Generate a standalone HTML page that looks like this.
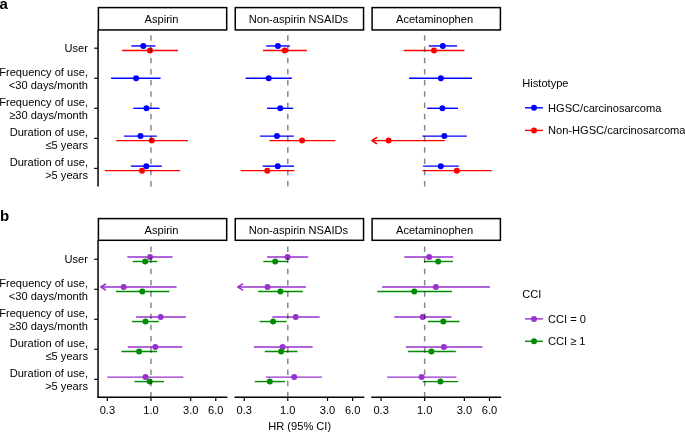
<!DOCTYPE html>
<html><head><meta charset="utf-8"><style>
html,body{margin:0;padding:0;background:#fff;}
svg{display:block;font-family:"Liberation Sans", sans-serif;will-change:transform;}
</style></head><body>
<svg width="685" height="432" viewBox="0 0 685 432">
<rect width="685" height="432" fill="#fff"/>
<text x="-0.6" y="8.6" font-size="15" font-weight="bold" fill="#000">a</text>
<rect x="98.40" y="7.60" width="128.30" height="22.35" fill="#fff" stroke="#000" stroke-width="1.5"/>
<text x="161.55" y="23.10" font-size="11.1" text-anchor="middle" fill="#000">Aspirin</text>
<rect x="235.25" y="7.60" width="128.30" height="22.35" fill="#fff" stroke="#000" stroke-width="1.5"/>
<text x="298.40" y="23.10" font-size="11.1" text-anchor="middle" fill="#000">Non-aspirin NSAIDs</text>
<rect x="372.10" y="7.60" width="128.30" height="22.35" fill="#fff" stroke="#000" stroke-width="1.5"/>
<text x="434.55" y="23.10" font-size="11.1" text-anchor="middle" fill="#000">Acetaminophen</text>
<line x1="98.05" y1="29.90" x2="98.05" y2="186.40" stroke="#000" stroke-width="1.5"/>
<line x1="94.25" y1="48.20" x2="98.05" y2="48.20" stroke="#000" stroke-width="1.2"/>
<text x="88.0" y="52.40" font-size="11.1" text-anchor="end" fill="#000">User</text>
<line x1="94.25" y1="78.25" x2="98.05" y2="78.25" stroke="#000" stroke-width="1.2"/>
<text x="88.0" y="75.55" font-size="11.1" text-anchor="end" fill="#000">Frequency of use,</text>
<text x="88.0" y="88.65" font-size="11.1" text-anchor="end" fill="#000">&lt;30 days/month</text>
<line x1="94.25" y1="108.30" x2="98.05" y2="108.30" stroke="#000" stroke-width="1.2"/>
<text x="88.0" y="105.60" font-size="11.1" text-anchor="end" fill="#000">Frequency of use,</text>
<text x="88.0" y="118.70" font-size="11.1" text-anchor="end" fill="#000">&#8805;30 days/month</text>
<line x1="94.25" y1="138.35" x2="98.05" y2="138.35" stroke="#000" stroke-width="1.2"/>
<text x="88.0" y="135.65" font-size="11.1" text-anchor="end" fill="#000">Duration of use,</text>
<text x="88.0" y="148.75" font-size="11.1" text-anchor="end" fill="#000">&#8804;5 years</text>
<line x1="94.25" y1="168.40" x2="98.05" y2="168.40" stroke="#000" stroke-width="1.2"/>
<text x="88.0" y="165.70" font-size="11.1" text-anchor="end" fill="#000">Duration of use,</text>
<text x="88.0" y="178.80" font-size="11.1" text-anchor="end" fill="#000">&gt;5 years</text>
<line x1="131.30" y1="45.95" x2="155.40" y2="45.95" stroke="#0000FF" stroke-width="1.4"/>
<circle cx="143.30" cy="45.95" r="3.0" fill="#0000FF"/>
<line x1="122.10" y1="50.45" x2="178.00" y2="50.45" stroke="#FF0000" stroke-width="1.4"/>
<circle cx="150.00" cy="50.45" r="3.0" fill="#FF0000"/>
<line x1="111.10" y1="78.25" x2="160.60" y2="78.25" stroke="#0000FF" stroke-width="1.4"/>
<circle cx="136.10" cy="78.25" r="3.0" fill="#0000FF"/>
<line x1="133.30" y1="108.30" x2="159.50" y2="108.30" stroke="#0000FF" stroke-width="1.4"/>
<circle cx="146.40" cy="108.30" r="3.0" fill="#0000FF"/>
<line x1="124.10" y1="136.10" x2="156.80" y2="136.10" stroke="#0000FF" stroke-width="1.4"/>
<circle cx="140.50" cy="136.10" r="3.0" fill="#0000FF"/>
<line x1="116.20" y1="140.60" x2="188.00" y2="140.60" stroke="#FF0000" stroke-width="1.4"/>
<circle cx="151.80" cy="140.60" r="3.0" fill="#FF0000"/>
<line x1="130.90" y1="166.15" x2="161.80" y2="166.15" stroke="#0000FF" stroke-width="1.4"/>
<circle cx="146.30" cy="166.15" r="3.0" fill="#0000FF"/>
<line x1="104.90" y1="170.65" x2="179.90" y2="170.65" stroke="#FF0000" stroke-width="1.4"/>
<circle cx="142.00" cy="170.65" r="3.0" fill="#FF0000"/>
<line x1="266.20" y1="45.95" x2="289.90" y2="45.95" stroke="#0000FF" stroke-width="1.4"/>
<circle cx="277.90" cy="45.95" r="3.0" fill="#0000FF"/>
<line x1="262.90" y1="50.45" x2="306.80" y2="50.45" stroke="#FF0000" stroke-width="1.4"/>
<circle cx="284.70" cy="50.45" r="3.0" fill="#FF0000"/>
<line x1="245.60" y1="78.25" x2="291.80" y2="78.25" stroke="#0000FF" stroke-width="1.4"/>
<circle cx="268.70" cy="78.25" r="3.0" fill="#0000FF"/>
<line x1="267.00" y1="108.30" x2="293.20" y2="108.30" stroke="#0000FF" stroke-width="1.4"/>
<circle cx="280.25" cy="108.30" r="3.0" fill="#0000FF"/>
<line x1="260.00" y1="136.10" x2="293.80" y2="136.10" stroke="#0000FF" stroke-width="1.4"/>
<circle cx="276.90" cy="136.10" r="3.0" fill="#0000FF"/>
<line x1="269.40" y1="140.60" x2="335.40" y2="140.60" stroke="#FF0000" stroke-width="1.4"/>
<circle cx="302.10" cy="140.60" r="3.0" fill="#FF0000"/>
<line x1="262.70" y1="166.15" x2="294.00" y2="166.15" stroke="#0000FF" stroke-width="1.4"/>
<circle cx="277.70" cy="166.15" r="3.0" fill="#0000FF"/>
<line x1="240.70" y1="170.65" x2="294.40" y2="170.65" stroke="#FF0000" stroke-width="1.4"/>
<circle cx="267.30" cy="170.65" r="3.0" fill="#FF0000"/>
<line x1="428.80" y1="45.95" x2="457.10" y2="45.95" stroke="#0000FF" stroke-width="1.4"/>
<circle cx="442.80" cy="45.95" r="3.0" fill="#0000FF"/>
<line x1="403.70" y1="50.45" x2="464.40" y2="50.45" stroke="#FF0000" stroke-width="1.4"/>
<circle cx="434.00" cy="50.45" r="3.0" fill="#FF0000"/>
<line x1="409.10" y1="78.25" x2="472.10" y2="78.25" stroke="#0000FF" stroke-width="1.4"/>
<circle cx="440.90" cy="78.25" r="3.0" fill="#0000FF"/>
<line x1="427.10" y1="108.30" x2="458.00" y2="108.30" stroke="#0000FF" stroke-width="1.4"/>
<circle cx="442.35" cy="108.30" r="3.0" fill="#0000FF"/>
<line x1="422.50" y1="136.10" x2="466.80" y2="136.10" stroke="#0000FF" stroke-width="1.4"/>
<circle cx="444.30" cy="136.10" r="3.0" fill="#0000FF"/>
<line x1="371.90" y1="140.60" x2="444.90" y2="140.60" stroke="#FF0000" stroke-width="1.4"/>
<polyline points="376.50,137.70 371.90,140.60 376.50,143.50" fill="none" stroke="#FF0000" stroke-width="1.5999999999999999" stroke-linejoin="round" stroke-linecap="round"/>
<circle cx="388.60" cy="140.60" r="3.0" fill="#FF0000"/>
<line x1="423.10" y1="166.15" x2="458.90" y2="166.15" stroke="#0000FF" stroke-width="1.4"/>
<circle cx="440.80" cy="166.15" r="3.0" fill="#0000FF"/>
<line x1="422.50" y1="170.65" x2="491.80" y2="170.65" stroke="#FF0000" stroke-width="1.4"/>
<circle cx="456.80" cy="170.65" r="3.0" fill="#FF0000"/>
<line x1="150.95" y1="186.40" x2="150.95" y2="30.50" stroke="#000" stroke-opacity="0.47" stroke-width="1.5" stroke-dasharray="5.5 5.7"/>
<line x1="287.80" y1="186.40" x2="287.80" y2="30.50" stroke="#000" stroke-opacity="0.47" stroke-width="1.5" stroke-dasharray="5.5 5.7"/>
<line x1="424.65" y1="186.40" x2="424.65" y2="30.50" stroke="#000" stroke-opacity="0.47" stroke-width="1.5" stroke-dasharray="5.5 5.7"/>
<text x="0" y="220.7" font-size="15" font-weight="bold" fill="#000">b</text>
<rect x="98.40" y="218.60" width="128.30" height="21.70" fill="#fff" stroke="#000" stroke-width="1.5"/>
<text x="161.55" y="234.10" font-size="11.1" text-anchor="middle" fill="#000">Aspirin</text>
<rect x="235.25" y="218.60" width="128.30" height="21.70" fill="#fff" stroke="#000" stroke-width="1.5"/>
<text x="298.40" y="234.10" font-size="11.1" text-anchor="middle" fill="#000">Non-aspirin NSAIDs</text>
<rect x="372.10" y="218.60" width="128.30" height="21.70" fill="#fff" stroke="#000" stroke-width="1.5"/>
<text x="434.55" y="234.10" font-size="11.1" text-anchor="middle" fill="#000">Acetaminophen</text>
<line x1="98.05" y1="240.40" x2="98.05" y2="398.10" stroke="#000" stroke-width="1.5"/>
<line x1="94.25" y1="259.25" x2="98.05" y2="259.25" stroke="#000" stroke-width="1.2"/>
<text x="88.0" y="263.45" font-size="11.1" text-anchor="end" fill="#000">User</text>
<line x1="94.25" y1="289.27" x2="98.05" y2="289.27" stroke="#000" stroke-width="1.2"/>
<text x="88.0" y="286.57" font-size="11.1" text-anchor="end" fill="#000">Frequency of use,</text>
<text x="88.0" y="299.67" font-size="11.1" text-anchor="end" fill="#000">&lt;30 days/month</text>
<line x1="94.25" y1="319.29" x2="98.05" y2="319.29" stroke="#000" stroke-width="1.2"/>
<text x="88.0" y="316.59" font-size="11.1" text-anchor="end" fill="#000">Frequency of use,</text>
<text x="88.0" y="329.69" font-size="11.1" text-anchor="end" fill="#000">&#8805;30 days/month</text>
<line x1="94.25" y1="349.31" x2="98.05" y2="349.31" stroke="#000" stroke-width="1.2"/>
<text x="88.0" y="346.61" font-size="11.1" text-anchor="end" fill="#000">Duration of use,</text>
<text x="88.0" y="359.71" font-size="11.1" text-anchor="end" fill="#000">&#8804;5 years</text>
<line x1="94.25" y1="379.33" x2="98.05" y2="379.33" stroke="#000" stroke-width="1.2"/>
<text x="88.0" y="376.63" font-size="11.1" text-anchor="end" fill="#000">Duration of use,</text>
<text x="88.0" y="389.73" font-size="11.1" text-anchor="end" fill="#000">&gt;5 years</text>
<line x1="127.30" y1="257.00" x2="172.50" y2="257.00" stroke="#9932CC" stroke-width="1.4"/>
<circle cx="150.00" cy="257.00" r="3.0" fill="#9932CC"/>
<line x1="132.70" y1="261.50" x2="157.30" y2="261.50" stroke="#008B00" stroke-width="1.4"/>
<circle cx="145.20" cy="261.50" r="3.0" fill="#008B00"/>
<line x1="100.90" y1="287.02" x2="176.60" y2="287.02" stroke="#9932CC" stroke-width="1.4"/>
<polyline points="105.50,284.12 100.90,287.02 105.50,289.92" fill="none" stroke="#9932CC" stroke-width="1.5999999999999999" stroke-linejoin="round" stroke-linecap="round"/>
<circle cx="123.60" cy="287.02" r="3.0" fill="#9932CC"/>
<line x1="115.90" y1="291.52" x2="169.30" y2="291.52" stroke="#008B00" stroke-width="1.4"/>
<circle cx="142.30" cy="291.52" r="3.0" fill="#008B00"/>
<line x1="136.10" y1="317.04" x2="186.05" y2="317.04" stroke="#9932CC" stroke-width="1.4"/>
<circle cx="160.65" cy="317.04" r="3.0" fill="#9932CC"/>
<line x1="132.00" y1="321.54" x2="158.80" y2="321.54" stroke="#008B00" stroke-width="1.4"/>
<circle cx="145.50" cy="321.54" r="3.0" fill="#008B00"/>
<line x1="127.80" y1="347.06" x2="182.40" y2="347.06" stroke="#9932CC" stroke-width="1.4"/>
<circle cx="155.30" cy="347.06" r="3.0" fill="#9932CC"/>
<line x1="121.40" y1="351.56" x2="157.00" y2="351.56" stroke="#008B00" stroke-width="1.4"/>
<circle cx="139.10" cy="351.56" r="3.0" fill="#008B00"/>
<line x1="107.40" y1="377.08" x2="183.40" y2="377.08" stroke="#9932CC" stroke-width="1.4"/>
<circle cx="145.50" cy="377.08" r="3.0" fill="#9932CC"/>
<line x1="134.50" y1="381.58" x2="164.00" y2="381.58" stroke="#008B00" stroke-width="1.4"/>
<circle cx="149.70" cy="381.58" r="3.0" fill="#008B00"/>
<line x1="267.10" y1="257.00" x2="308.20" y2="257.00" stroke="#9932CC" stroke-width="1.4"/>
<circle cx="287.60" cy="257.00" r="3.0" fill="#9932CC"/>
<line x1="263.30" y1="261.50" x2="288.00" y2="261.50" stroke="#008B00" stroke-width="1.4"/>
<circle cx="275.20" cy="261.50" r="3.0" fill="#008B00"/>
<line x1="237.90" y1="287.02" x2="305.90" y2="287.02" stroke="#9932CC" stroke-width="1.4"/>
<polyline points="242.50,284.12 237.90,287.02 242.50,289.92" fill="none" stroke="#9932CC" stroke-width="1.5999999999999999" stroke-linejoin="round" stroke-linecap="round"/>
<circle cx="267.50" cy="287.02" r="3.0" fill="#9932CC"/>
<line x1="258.10" y1="291.52" x2="302.80" y2="291.52" stroke="#008B00" stroke-width="1.4"/>
<circle cx="280.40" cy="291.52" r="3.0" fill="#008B00"/>
<line x1="272.30" y1="317.04" x2="319.60" y2="317.04" stroke="#9932CC" stroke-width="1.4"/>
<circle cx="295.75" cy="317.04" r="3.0" fill="#9932CC"/>
<line x1="259.60" y1="321.54" x2="286.70" y2="321.54" stroke="#008B00" stroke-width="1.4"/>
<circle cx="273.10" cy="321.54" r="3.0" fill="#008B00"/>
<line x1="253.80" y1="347.06" x2="312.70" y2="347.06" stroke="#9932CC" stroke-width="1.4"/>
<circle cx="282.70" cy="347.06" r="3.0" fill="#9932CC"/>
<line x1="264.80" y1="351.56" x2="297.50" y2="351.56" stroke="#008B00" stroke-width="1.4"/>
<circle cx="281.10" cy="351.56" r="3.0" fill="#008B00"/>
<line x1="265.90" y1="377.08" x2="321.90" y2="377.08" stroke="#9932CC" stroke-width="1.4"/>
<circle cx="294.20" cy="377.08" r="3.0" fill="#9932CC"/>
<line x1="254.80" y1="381.58" x2="285.00" y2="381.58" stroke="#008B00" stroke-width="1.4"/>
<circle cx="269.80" cy="381.58" r="3.0" fill="#008B00"/>
<line x1="404.30" y1="257.00" x2="453.30" y2="257.00" stroke="#9932CC" stroke-width="1.4"/>
<circle cx="429.20" cy="257.00" r="3.0" fill="#9932CC"/>
<line x1="424.00" y1="261.50" x2="452.90" y2="261.50" stroke="#008B00" stroke-width="1.4"/>
<circle cx="438.20" cy="261.50" r="3.0" fill="#008B00"/>
<line x1="382.10" y1="287.02" x2="489.90" y2="287.02" stroke="#9932CC" stroke-width="1.4"/>
<circle cx="435.90" cy="287.02" r="3.0" fill="#9932CC"/>
<line x1="377.30" y1="291.52" x2="451.90" y2="291.52" stroke="#008B00" stroke-width="1.4"/>
<circle cx="414.30" cy="291.52" r="3.0" fill="#008B00"/>
<line x1="394.30" y1="317.04" x2="451.25" y2="317.04" stroke="#9932CC" stroke-width="1.4"/>
<circle cx="422.65" cy="317.04" r="3.0" fill="#9932CC"/>
<line x1="427.90" y1="321.54" x2="459.50" y2="321.54" stroke="#008B00" stroke-width="1.4"/>
<circle cx="443.30" cy="321.54" r="3.0" fill="#008B00"/>
<line x1="405.80" y1="347.06" x2="482.40" y2="347.06" stroke="#9932CC" stroke-width="1.4"/>
<circle cx="443.90" cy="347.06" r="3.0" fill="#9932CC"/>
<line x1="408.10" y1="351.56" x2="455.80" y2="351.56" stroke="#008B00" stroke-width="1.4"/>
<circle cx="431.40" cy="351.56" r="3.0" fill="#008B00"/>
<line x1="387.10" y1="377.08" x2="456.40" y2="377.08" stroke="#9932CC" stroke-width="1.4"/>
<circle cx="421.60" cy="377.08" r="3.0" fill="#9932CC"/>
<line x1="422.50" y1="381.58" x2="457.90" y2="381.58" stroke="#008B00" stroke-width="1.4"/>
<circle cx="440.40" cy="381.58" r="3.0" fill="#008B00"/>
<line x1="150.95" y1="397.50" x2="150.95" y2="241.00" stroke="#000" stroke-opacity="0.47" stroke-width="1.5" stroke-dasharray="5.5 5.7"/>
<line x1="287.80" y1="397.50" x2="287.80" y2="241.00" stroke="#000" stroke-opacity="0.47" stroke-width="1.5" stroke-dasharray="5.5 5.7"/>
<line x1="424.65" y1="397.50" x2="424.65" y2="241.00" stroke="#000" stroke-opacity="0.47" stroke-width="1.5" stroke-dasharray="5.5 5.7"/>
<line x1="97.65" y1="397.35" x2="227.45" y2="397.35" stroke="#000" stroke-width="1.5"/>
<line x1="107.39" y1="397.35" x2="107.39" y2="400.95" stroke="#000" stroke-width="1.2"/>
<text x="107.39" y="414.0" font-size="11.1" text-anchor="middle" fill="#000">0.3</text>
<line x1="150.95" y1="397.35" x2="150.95" y2="400.95" stroke="#000" stroke-width="1.2"/>
<text x="150.95" y="414.0" font-size="11.1" text-anchor="middle" fill="#000">1.0</text>
<line x1="190.69" y1="397.35" x2="190.69" y2="400.95" stroke="#000" stroke-width="1.2"/>
<text x="190.69" y="414.0" font-size="11.1" text-anchor="middle" fill="#000">3.0</text>
<line x1="215.77" y1="397.35" x2="215.77" y2="400.95" stroke="#000" stroke-width="1.2"/>
<text x="215.77" y="414.0" font-size="11.1" text-anchor="middle" fill="#000">6.0</text>
<line x1="234.50" y1="397.35" x2="364.30" y2="397.35" stroke="#000" stroke-width="1.5"/>
<line x1="244.24" y1="397.35" x2="244.24" y2="400.95" stroke="#000" stroke-width="1.2"/>
<text x="244.24" y="414.0" font-size="11.1" text-anchor="middle" fill="#000">0.3</text>
<line x1="287.80" y1="397.35" x2="287.80" y2="400.95" stroke="#000" stroke-width="1.2"/>
<text x="287.80" y="414.0" font-size="11.1" text-anchor="middle" fill="#000">1.0</text>
<line x1="327.54" y1="397.35" x2="327.54" y2="400.95" stroke="#000" stroke-width="1.2"/>
<text x="327.54" y="414.0" font-size="11.1" text-anchor="middle" fill="#000">3.0</text>
<line x1="352.62" y1="397.35" x2="352.62" y2="400.95" stroke="#000" stroke-width="1.2"/>
<text x="352.62" y="414.0" font-size="11.1" text-anchor="middle" fill="#000">6.0</text>
<line x1="371.35" y1="397.35" x2="501.15" y2="397.35" stroke="#000" stroke-width="1.5"/>
<line x1="381.09" y1="397.35" x2="381.09" y2="400.95" stroke="#000" stroke-width="1.2"/>
<text x="381.09" y="414.0" font-size="11.1" text-anchor="middle" fill="#000">0.3</text>
<line x1="424.65" y1="397.35" x2="424.65" y2="400.95" stroke="#000" stroke-width="1.2"/>
<text x="424.65" y="414.0" font-size="11.1" text-anchor="middle" fill="#000">1.0</text>
<line x1="464.39" y1="397.35" x2="464.39" y2="400.95" stroke="#000" stroke-width="1.2"/>
<text x="464.39" y="414.0" font-size="11.1" text-anchor="middle" fill="#000">3.0</text>
<line x1="489.47" y1="397.35" x2="489.47" y2="400.95" stroke="#000" stroke-width="1.2"/>
<text x="489.47" y="414.0" font-size="11.1" text-anchor="middle" fill="#000">6.0</text>
<text x="299.7" y="430.1" font-size="11.1" text-anchor="middle" fill="#000">HR (95% CI)</text>
<text x="522.3" y="87.00" font-size="11.1" fill="#000">Histotype</text>
<line x1="525.0" y1="107.80" x2="543.0" y2="107.80" stroke="#0000FF" stroke-width="1.4"/>
<circle cx="534.0" cy="107.80" r="3.0" fill="#0000FF"/>
<text x="548.0" y="111.80" font-size="11.1" fill="#000">HGSC/carcinosarcoma</text>
<line x1="525.0" y1="130.40" x2="543.0" y2="130.40" stroke="#FF0000" stroke-width="1.4"/>
<circle cx="534.0" cy="130.40" r="3.0" fill="#FF0000"/>
<text x="548.0" y="134.40" font-size="11.1" fill="#000">Non-HGSC/carcinosarcoma</text>
<text x="522.3" y="297.50" font-size="11.1" fill="#000">CCI</text>
<line x1="525.0" y1="318.90" x2="543.0" y2="318.90" stroke="#9932CC" stroke-width="1.4"/>
<circle cx="534.0" cy="318.90" r="3.0" fill="#9932CC"/>
<text x="548.0" y="322.90" font-size="11.1" fill="#000">CCI = 0</text>
<line x1="525.0" y1="341.30" x2="543.0" y2="341.30" stroke="#008B00" stroke-width="1.4"/>
<circle cx="534.0" cy="341.30" r="3.0" fill="#008B00"/>
<text x="548.0" y="345.30" font-size="11.1" fill="#000">CCI &#8805; 1</text>
</svg>
</body></html>
